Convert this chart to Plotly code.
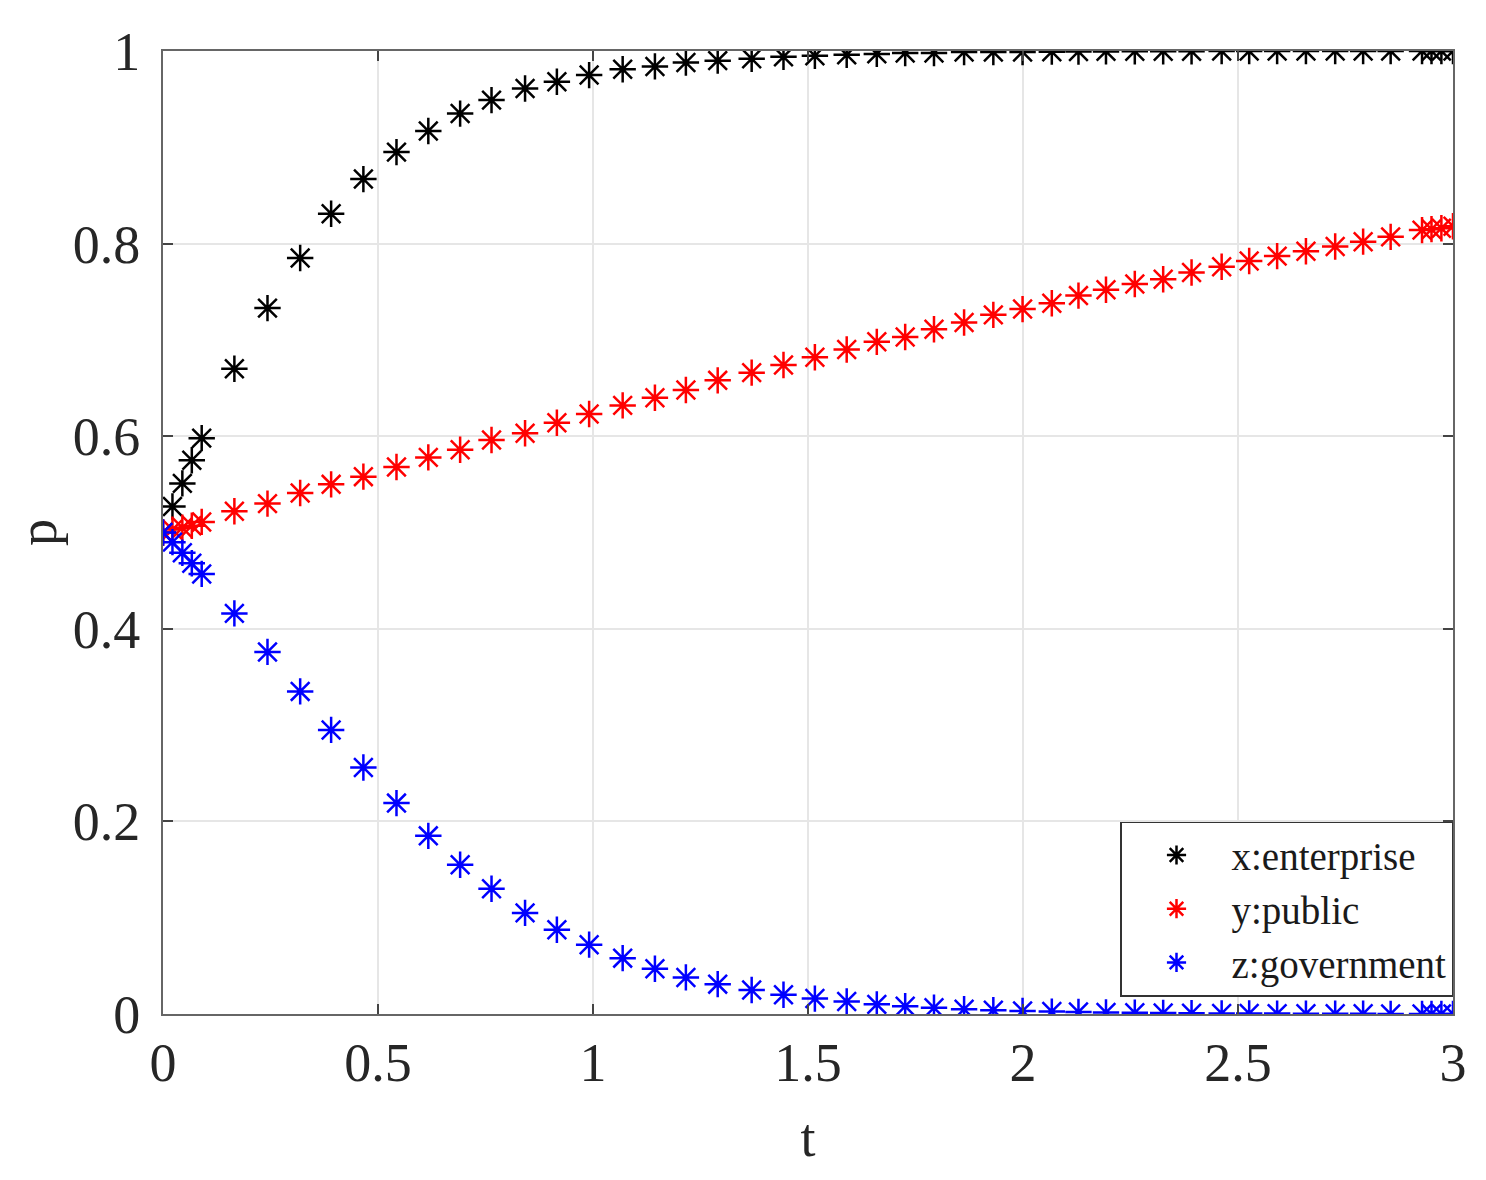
import plotly.graph_objects as go

# time points and the three shares
t = [0, 0.022, 0.045, 0.067, 0.09, 0.166, 0.243, 0.319, 0.391, 0.466, 0.543, 0.617,
     0.691, 0.764, 0.842, 0.916, 0.991, 1.069, 1.144, 1.216, 1.29, 1.369, 1.443, 1.516,
     1.59, 1.66, 1.726, 1.793, 1.863, 1.931, 1.999, 2.067, 2.129, 2.193, 2.26, 2.326,
     2.392, 2.462, 2.526, 2.591, 2.658, 2.726, 2.791, 2.855, 2.928, 2.95, 2.973, 3.0]

x_enterprise = [0.5, 0.527, 0.551, 0.575, 0.598, 0.670, 0.733, 0.785, 0.831, 0.867, 0.895, 0.917,
                0.935, 0.949, 0.961, 0.968, 0.975, 0.981, 0.984, 0.988, 0.990, 0.992, 0.994, 0.995,
                0.996, 0.997, 0.998, 0.998, 0.999, 0.999, 0.999, 0.9993, 0.9995, 0.9996, 0.9997, 0.9998,
                0.9998, 0.9999, 0.9999, 0.9999, 0.9999, 1.0, 1.0, 1.0, 1.0, 1.0, 1.0, 1.0]

y_public = [0.5, 0.503, 0.505, 0.507, 0.511, 0.522, 0.530, 0.541, 0.550, 0.558, 0.568, 0.578,
            0.586, 0.596, 0.603, 0.614, 0.623, 0.632, 0.640, 0.648, 0.658, 0.666, 0.674, 0.682,
            0.690, 0.698, 0.703, 0.711, 0.718, 0.726, 0.732, 0.738, 0.746, 0.752, 0.758, 0.763,
            0.770, 0.776, 0.782, 0.787, 0.792, 0.797, 0.802, 0.807, 0.814, 0.815, 0.816, 0.818]

z_government = [0.5, 0.49, 0.479, 0.468, 0.457, 0.416, 0.376, 0.335, 0.295, 0.256, 0.219, 0.185,
                0.155, 0.130, 0.105, 0.0875, 0.072, 0.058, 0.047, 0.038, 0.031, 0.025, 0.020, 0.016,
                0.013, 0.010, 0.008, 0.0065, 0.005, 0.004, 0.0032, 0.0025, 0.002, 0.0016, 0.0013, 0.001,
                0.0008, 0.0006, 0.0005, 0.0004, 0.0003, 0.0002, 0.0002, 0.0001, 0.0001, 0.0001, 0.0001, 0.0001]

series = [("x:enterprise", x_enterprise, "#000000"),
          ("y:public", y_public, "#ff0000"),
          ("z:government", z_government, "#0000ff")]

font_family = "Liberation Serif, Times New Roman, serif"

fig = go.Figure()
for name, vals, color in series:
    fig.add_trace(go.Scatter(
        x=t, y=vals, name=name, mode="markers",
        marker=dict(symbol="asterisk-open", size=22, color=color,
                    line=dict(color=color, width=2.5)),
    ))

axis_common = dict(
    showline=True, linecolor="#666666", linewidth=2, mirror="all",
    ticks="inside", ticklen=10, tickwidth=1.5, tickcolor="#444444",
    showgrid=True, gridcolor="#e6e6e6", gridwidth=1.5,
    zeroline=False,
    tickfont=dict(family=font_family, size=54, color="#262626"),
)

fig.update_xaxes(range=[0, 3], tickvals=[0, 0.5, 1, 1.5, 2, 2.5, 3],
                 ticktext=["0", "0.5", "1", "1.5", "2", "2.5", "3"],
                 title=dict(text="t", font=dict(family=font_family, size=54, color="#262626"),
                            standoff=26),
                 **axis_common)
fig.update_yaxes(range=[0, 1], tickvals=[0, 0.2, 0.4, 0.6, 0.8, 1],
                 ticktext=["0", "0.2", "0.4", "0.6", "0.8", "1"],
                 ticklabelstandoff=10,
                 title=dict(text="p", font=dict(family=font_family, size=54, color="#262626"),
                            standoff=14),
                 **axis_common)

fig.update_layout(
    width=1486, height=1180,
    margin=dict(l=155, r=41, t=43, b=174),
    paper_bgcolor="white", plot_bgcolor="white",
    font=dict(family=font_family, color="#262626"),
    legend=dict(
        x=1, y=0.018, xanchor="right", yanchor="bottom",
        bgcolor="white", bordercolor="#333333", borderwidth=1.5,
        font=dict(family=font_family, size=39, color="#1a1a1a"),
        itemwidth=100,
    ),
)

fig.write_html("out.html")
